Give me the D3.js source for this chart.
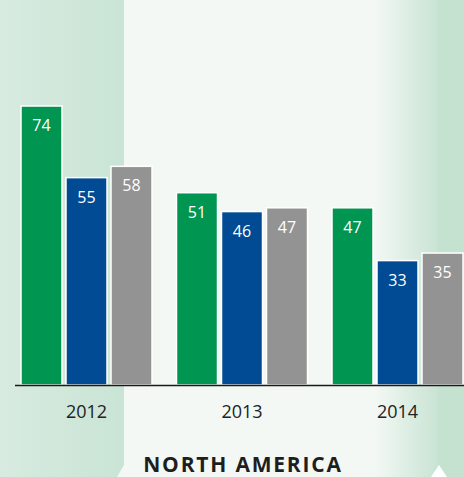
<!DOCTYPE html>
<html>
<head>
<meta charset="utf-8">
<script src="https://cdn.jsdelivr.net/npm/d3@7/dist/d3.min.js"></script>
<style>
  html, body { margin: 0; padding: 0; background: #f3f8f5; }
  svg { display: block; }
</style>
</head>
<body>
<svg id="chart" width="464" height="477"></svg>
<script>
// Survey results by year, three series per year
const years = ["2012", "2013", "2014"];
const seriesNames = ["a", "b", "c"];
const seriesA = [74, 51, 47];
const seriesB = [55, 46, 33];
const seriesC = [58, 47, 35];
const seriesColors = ["#009550", "#004b93", "#939393"];
const regionTitle = "NORTH AMERICA";

const W = 464, H = 477;
const svg = d3.select("#chart");
const defs = svg.append("defs");

// Background panels
const gLeft = defs.append("linearGradient").attr("id", "gLeft");
gLeft.append("stop").attr("offset", "0%").attr("stop-color", "#d8ebe0");
gLeft.append("stop").attr("offset", "100%").attr("stop-color", "#c9e4d5");
const gRight = defs.append("linearGradient").attr("id", "gRight");
gRight.append("stop").attr("offset", "0%").attr("stop-color", "#f3f8f5");
gRight.append("stop").attr("offset", "100%").attr("stop-color", "#c8e3d3");

svg.append("rect").attr("width", W).attr("height", H).attr("fill", "#f3f8f5");
svg.append("path")
  .attr("d", "M0,0 H124 V465 L117,477 H0 Z")
  .attr("fill", "url(#gLeft)");
svg.append("rect").attr("x", 375).attr("y", 0).attr("width", 64).attr("height", H)
  .attr("fill", "url(#gRight)");
svg.append("rect").attr("x", 438).attr("y", 0).attr("width", 26).attr("height", H)
  .attr("fill", "#c5e2d1");
svg.append("path").attr("d", "M439,465 L431,477 H447 Z").attr("fill", "#ffffff");

// Scales
const baseY = 385;
const y = d3.scaleLinear().domain([0, 74]).range([baseY, 106]);
const x0 = d3.scaleBand().domain(years).range([21, 487.5]).paddingInner(0).paddingOuter(0);
const x1 = d3.scaleBand().domain(seriesNames).range([0, 131]).paddingInner(4 / 45);

const rows = years.map((yr, i) => ({
  year: yr,
  vals: [seriesA[i], seriesB[i], seriesC[i]]
}));

const groups = svg.selectAll("g.grp").data(rows).join("g")
  .attr("class", "grp")
  .attr("transform", d => `translate(${x0(d.year)},0)`);

const bars = groups.selectAll("g.bar")
  .data(d => d.vals.map((v, j) => ({ v, s: seriesNames[j], c: seriesColors[j] })))
  .join("g").attr("class", "bar");

bars.append("rect")
  .attr("x", d => x1(d.s))
  .attr("y", d => y(d.v))
  .attr("width", x1.bandwidth())
  .attr("height", d => baseY - y(d.v))
  .attr("fill", d => d.c)
  .attr("stroke", "#ffffff")
  .attr("stroke-width", 1.5);

bars.append("text")
  .attr("x", d => x1(d.s) + x1.bandwidth() / 2)
  .attr("y", d => y(d.v) + 25)
  .attr("text-anchor", "middle")
  .attr("fill", "#ffffff")
  .attr("font-family", "'Open Sans', sans-serif")
  .attr("font-size", 16)
  .text(d => d.v);

// Axis baseline and year labels
const axis = d3.axisBottom(x0).tickSize(0).tickPadding(0);
const axisG = svg.append("g").attr("transform", `translate(0,${baseY})`).call(axis);
axisG.select(".domain").remove();
axisG.selectAll(".tick").attr("transform", d => `translate(${x0(d) + x1(seriesNames[1]) + x1.bandwidth() / 2},0)`);
axisG.selectAll(".tick text")
  .attr("y", 33)
  .attr("dy", null)
  .attr("fill", "#222222")
  .attr("font-family", "'Open Sans', sans-serif")
  .attr("font-size", 18);

svg.append("line")
  .attr("x1", 15).attr("x2", W)
  .attr("y1", baseY + 0.5).attr("y2", baseY + 0.5)
  .attr("stroke", "#1a1a1a").attr("stroke-width", 1.6);

svg.append("text")
  .attr("x", 243).attr("y", 472)
  .attr("text-anchor", "middle")
  .attr("fill", "#1e1e1e")
  .attr("font-family", "'Open Sans', sans-serif")
  .attr("font-weight", 700)
  .attr("font-size", 21)
  .attr("letter-spacing", 1.8)
  .text(regionTitle);
</script>
</body>
</html>
